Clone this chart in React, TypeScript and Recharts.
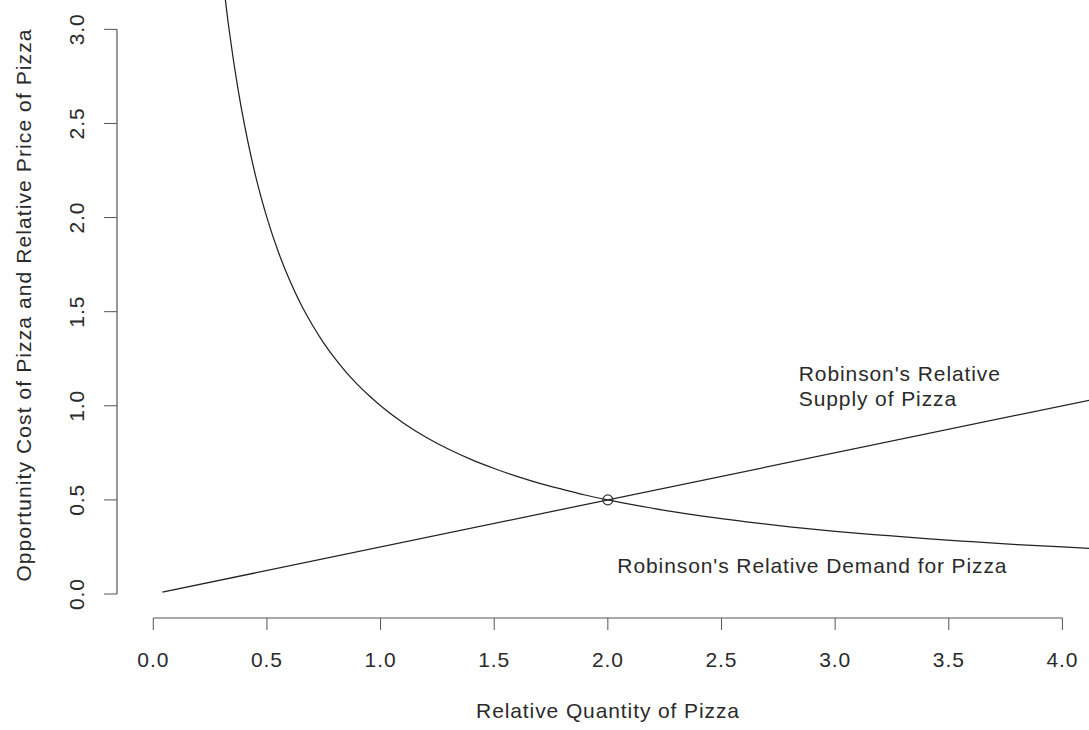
import React from "react";
import { ComposedChart, Line, XAxis, YAxis, ReferenceLine, ReferenceDot, Label } from "recharts";

// values
const supplyX = [0.04, 4.2];
const supplyY = [0.01, 1.05];

const demandX = [
  0.31, 0.33, 0.35, 0.375, 0.4, 0.425, 0.45, 0.475, 0.5, 0.55, 0.6, 0.65, 0.7, 0.75, 0.8, 0.85, 0.9, 0.95, 1.0,
  1.1, 1.2, 1.3, 1.4, 1.5, 1.6, 1.7, 1.8, 1.9, 2.0, 2.15, 2.3, 2.45, 2.6, 2.8, 3.0, 3.2, 3.4, 3.6, 3.8, 4.0, 4.2,
];
const demandY = [
  3.226, 3.03, 2.857, 2.667, 2.5, 2.353, 2.222, 2.105, 2.0, 1.818, 1.667, 1.538, 1.429, 1.333, 1.25, 1.176, 1.111, 1.053, 1.0,
  0.909, 0.833, 0.769, 0.714, 0.667, 0.625, 0.588, 0.556, 0.526, 0.5, 0.465, 0.435, 0.408, 0.385, 0.357, 0.333, 0.313, 0.294,
  0.278, 0.263, 0.25, 0.238,
];

const xTicks = [0, 0.5, 1, 1.5, 2, 2.5, 3, 3.5, 4];
const yTicks = [0, 0.5, 1, 1.5, 2, 2.5, 3];
const xTickLabels = ["0.0", "0.5", "1.0", "1.5", "2.0", "2.5", "3.0", "3.5", "4.0"];
const yTickLabels = ["0.0", "0.5", "1.0", "1.5", "2.0", "2.5", "3.0"];

const equilibrium = { x: 2, y: 0.5 };
const supplyNote = { x: 2.84, y: 1.13, lines: ["Robinson's Relative", "Supply of Pizza"] };
const demandNote = { x: 2.9, y: 0.11, text: "Robinson's Relative Demand for Pizza" };

const xDomain = [-0.1597, 4.117];
const yDomain = [-0.1275, 3.156];

const supplyData = supplyX.map((x, i) => ({ x, y: supplyY[i] }));
const demandData = demandX.map((x, i) => ({ x, y: demandY[i] }));

const FONT = "'Liberation Sans', Arial, sans-serif";
const TEXT = "#2a2a2a";
const txt = { fontFamily: FONT, fontSize: 21, letterSpacing: 0.9, fill: TEXT };

function fmt(v: number, ticks: number[], labels: string[]) {
  const i = ticks.indexOf(v);
  return i >= 0 ? labels[i] : String(v);
}

function YTick(props: any) {
  const { x, y, payload } = props;
  return (
    <text transform={`translate(${x - 18},${y}) rotate(-90)`} textAnchor="middle" style={txt}>
      {fmt(payload.value, yTicks, yTickLabels)}
    </text>
  );
}

function XTick(props: any) {
  const { x, y, payload } = props;
  return (
    <text x={x} y={y + 35} textAnchor="middle" style={txt}>
      {fmt(payload.value, xTicks, xTickLabels)}
    </text>
  );
}

export default function App() {
  return (
    <div style={{ position: "absolute", left: 0, top: 0, background: "#fff" }}>
      <ComposedChart width={1089} height={730} margin={{ top: 0, right: 0, bottom: 0, left: 0 }}>
        <XAxis
          type="number"
          dataKey="x"
          domain={xDomain}
          ticks={xTicks}
          allowDataOverflow
          axisLine={false}
          tickLine={{ stroke: "#555" }}
          tickSize={12}
          height={112}
          tick={<XTick />}
        >
          <Label
            content={() => (
              <text x={608} y={718} textAnchor="middle" style={txt}>
                Relative Quantity of Pizza
              </text>
            )}
          />
        </XAxis>
        <YAxis
          type="number"
          dataKey="y"
          domain={yDomain}
          ticks={yTicks}
          allowDataOverflow
          axisLine={false}
          tickLine={{ stroke: "#555" }}
          tickSize={13}
          width={117}
          tick={<YTick />}
        >
          <Label
            content={() => (
              <text transform="translate(31,305) rotate(-90)" textAnchor="middle" style={{ ...txt, letterSpacing: 1.1 }}>
                Opportunity Cost of Pizza and Relative Price of Pizza
              </text>
            )}
          />
        </YAxis>

        <ReferenceLine
          segment={[{ x: 0, y: yDomain[0] }, { x: 4, y: yDomain[0] }]}
          stroke="#555"
          strokeWidth={1.2}
          ifOverflow="visible"
        />
        <ReferenceLine
          segment={[{ x: xDomain[0], y: 0 }, { x: xDomain[0], y: 3 }]}
          stroke="#555"
          strokeWidth={1.2}
          ifOverflow="visible"
        />

        <Line data={demandData} dataKey="y" type="monotone" stroke="#222" strokeWidth={1.25} dot={false} isAnimationActive={false} />
        <Line data={supplyData} dataKey="y" type="linear" stroke="#222" strokeWidth={1.25} dot={false} isAnimationActive={false} />

        <ReferenceDot x={equilibrium.x} y={equilibrium.y} r={5} fill="none" stroke="#333" strokeWidth={1.2} ifOverflow="visible" />

        <ReferenceDot
          x={supplyNote.x}
          y={supplyNote.y}
          r={0}
          fill="none"
          stroke="none"
          ifOverflow="visible"
          label={(p: any) => {
            const vb = p.viewBox || {};
            return (
              <text x={vb.x} y={vb.y} textAnchor="start" style={txt}>
                {supplyNote.lines.map((l, i) => (
                  <tspan key={i} x={vb.x} dy={i === 0 ? 0 : 24.5}>
                    {l}
                  </tspan>
                ))}
              </text>
            );
          }}
        />
        <ReferenceDot
          x={demandNote.x}
          y={demandNote.y}
          r={0}
          fill="none"
          stroke="none"
          ifOverflow="visible"
          label={(p: any) => {
            const vb = p.viewBox || {};
            return (
              <text x={vb.x} y={vb.y} textAnchor="middle" style={txt}>
                {demandNote.text}
              </text>
            );
          }}
        />
      </ComposedChart>
    </div>
  );
}
